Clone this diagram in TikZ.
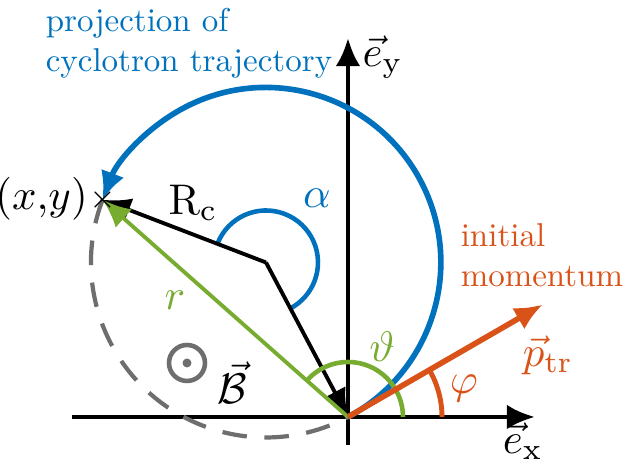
\documentclass[tikz,border=0pt]{standalone}
\usetikzlibrary{arrows.meta,calc}
\definecolor{mblue}{RGB}{0,114,189}
\definecolor{morange}{RGB}{217,83,25}
\definecolor{mgreen}{RGB}{119,172,48}
\definecolor{mgray}{RGB}{110,110,110}
\tikzset{txt/.style={scale=0.77,align=left}}
\begin{document}
\begin{tikzpicture}
			[line width=1.1pt, every node/.style={scale=1.22}, >={Latex[length=8pt,width=7pt]}]
			\useasboundingbox (-3.48,-0.49) rectangle (2.77,4.17);
			\coordinate (o) at (0,0);
			\coordinate (c) at (-0.82,1.545);
			\coordinate (p) at ($(c)+(159:1.75)$);
			\coordinate (xe) at (1.87,0);
			\coordinate (ye) at (0,3.79);
			% axes
			\draw[line width=1.3pt,->] (-2.76,0) -- (xe);
			\draw[line width=1.3pt,->] (0,-0.28) -- (ye);
			\node (ex) at (1.75,-0.24) {$\vec{e}_{\mathrm{x}}$};
			\node (ey) at (0.35,3.6) {$\vec{e}_{\mathrm{y}}$};
			% trajectory
			\draw[mgray,dashed,line width=1.2pt,dash pattern=on 7pt off 5pt] (p) arc (159:298:1.75);
			\draw[mblue,line width=1.6pt,->] (o) arc (-62:159:1.75);
			\draw[mblue,line width=1.3pt] ($(c)+(159:0.52)$) arc (159:-62:0.52);
			\node[mblue] (alpha) at (-0.31,2.19) {$\alpha$};
			\node[mblue,txt] (traj) at (-1.59,3.74) {projection of\\cyclotron trajectory};
			% radius
			\draw[->] (c) -- (p);
			\draw[->] (c) -- (o);
			\node (rc) at (-1.55,2.14) {$\mathrm{R_c}$};
			% position
			\draw[mgreen,->] (o) -- (p);
			\draw[mgreen,line width=1.3pt] (0.55,0) arc (0:138.5:0.55);
			\node[mgreen] (r) at (-1.73,1.17) {$r$};
			\node[mgreen] (theta) at (0.34,0.7) {$\vartheta$};
			\node (xy) at ($(p)+(-0.61,0.01)$) {$(x{,}y)$};
			\node[inner sep=0pt] (cross) at (p) {\scriptsize$\times$};
			% momentum
			\draw[morange,line width=1.6pt,->] (o) -- (30:2.25);
			\draw[morange,line width=1.4pt] (0.94,0) arc (0:30:0.94);
			\node[morange] (phi) at (1.16,0.29) {$\varphi$};
			\node[morange] (ptr) at (2.0,0.62) {$\vec{p}_{\mathrm{tr}}$};
			\node[morange,txt,anchor=west,inner xsep=0pt] (init) at (1.11,1.62) {initial\\momentum};
			% field
			\draw[mgray,line width=1.3pt] (-1.61,0.54) circle (0.18);
			\fill[mgray] (-1.61,0.54) circle (0.045);
			\node (bfield) at (-1.16,0.34) {$\vec{\mathcal{B}}$};
		\end{tikzpicture}
\end{document}
